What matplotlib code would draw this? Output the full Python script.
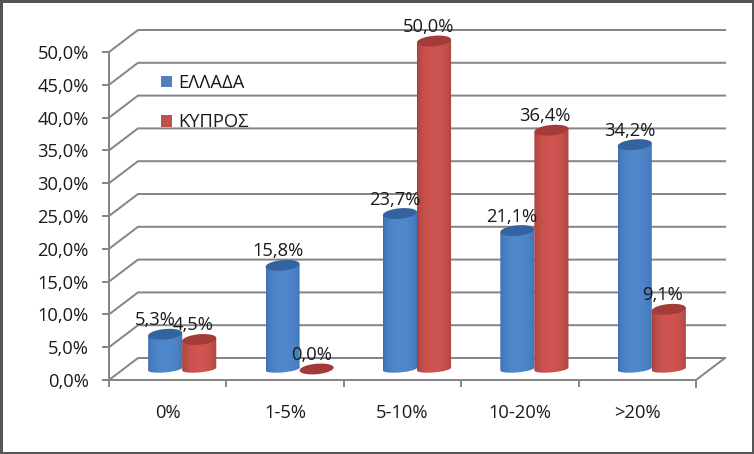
import numpy as np
import matplotlib
matplotlib.use("Agg")
import matplotlib.pyplot as plt
from matplotlib.patches import Polygon, Rectangle, Patch

categories = ["0%", "1-5%", "5-10%", "10-20%", ">20%"]
greece = [5.3, 15.8, 23.7, 21.1, 34.2]
cyprus = [4.5, 0.0, 50.0, 36.4, 9.1]
greece_labels = ["5,3%", "15,8%", "23,7%", "21,1%", "34,2%"]
cyprus_labels = ["4,5%", "0,0%", "50,0%", "36,4%", "9,1%"]
y_ticks = [0, 5, 10, 15, 20, 25, 30, 35, 40, 45, 50]
series_names = ["ΕΛΛΑΔΑ", "ΚΥΠΡΟΣ"]

plt.rcParams["font.family"] = ["Open Sans", "DejaVu Sans"]
W, H = 754, 454
fig = plt.figure(figsize=(W / 100, H / 100), dpi=100, facecolor="white")
ax = fig.add_axes([109 / W, 1 - 380 / H, 587 / W, 328 / H])
ax.set_xlim(0, 5)
ax.set_ylim(0, 50)
ax.patch.set_alpha(0)
px = 72 / 100
GRID = "#868686"
TXT = "#1a1a1a"
FS = 13.2

# 3-D depth of the chart box, in data units
DX, DY = 29 / 117.4, 22 / 6.56
for s in ["top", "right"]:
    ax.spines[s].set_visible(False)
for s in ["left", "bottom"]:
    ax.spines[s].set_color(GRID)
    ax.spines[s].set_linewidth(2 * px)
ax.set_yticks(y_ticks)
ax.set_yticklabels([f"{v:.1f}%".replace(".", ",") for v in y_ticks], fontsize=FS, color=TXT)
ax.set_xticks(range(6))
ax.set_xticklabels([""] * 6)
ax.set_xticks(np.arange(5) + 0.5, minor=True)
ax.set_xticklabels(categories, minor=True, fontsize=FS, color=TXT)
ax.tick_params(axis="y", length=7 * px, width=2 * px, color=GRID, pad=13 * px)
ax.tick_params(axis="x", which="major", length=7 * px, width=2 * px, color=GRID)
ax.tick_params(axis="x", which="minor", length=0, pad=24 * px)

# wall and floor lines
for v in y_ticks:
    ax.plot([0, DX, 5 + DX], [v, v + DY, v + DY], color=GRID, lw=2 * px, clip_on=False, zorder=1, solid_joinstyle="miter")
ax.plot([5, 5 + DX], [0, DY], color=GRID, lw=2 * px, clip_on=False, zorder=1)
ax.plot([5, 5], [0, -7 / 6.56], color=GRID, lw=2 * px, clip_on=False, zorder=1)


def hex_rgb(c):
    return np.array(matplotlib.colors.to_rgb(c))


def cylinder(xc, value, dark, light, top, z):
    hw, hh, shear = 0.145, 0.8, 0.22
    base = DY / 2
    t = np.linspace(0, np.pi, 40)
    ex, ey = np.cos(t), np.sin(t)
    if value > 0:
        lo = np.c_[xc - hw * ex, base - 0.65 * hh * ey - shear * ex]
        up = np.c_[xc + hw * ex, base + value + shear * ex]
        body = Polygon(np.r_[lo, up], closed=True, transform=ax.transData, fc="none", ec="none")
        ax.add_patch(body)
        u = np.linspace(0, 1, 80)
        w = np.clip(np.sin(np.pi * u) ** 0.4, 0, 1)[None, :, None]
        grad = hex_rgb(dark)[None, None, :] * (1 - w) + hex_rgb(light)[None, None, :] * w
        im = ax.imshow(grad, extent=[xc - hw, xc + hw, base - 2, base + value + 2],
                       aspect="auto", zorder=z, interpolation="bilinear")
        im.set_clip_path(body)
        im.set_clip_box(fig.bbox)
    a = np.linspace(0, 2 * np.pi, 80)
    lid = np.c_[xc + hw * np.cos(a), base + value + hh * np.sin(a) + shear * np.cos(a)]
    ax.add_patch(Polygon(lid, closed=True, fc=top, ec="none", zorder=z + 0.1, clip_on=False))


OFFSET = 0.145
GC = DX / 2
label_shift_g = [-10, -5, -5, -6, -5]
label_shift_c = [-6, -5, -5, -7, -6]
for i in range(5):
    xb = i + 0.5 + GC - OFFSET
    xr = i + 0.5 + GC + OFFSET
    cylinder(xb, greece[i], "#386aa8", "#5088cc", "#34649f", 3 + i)
    cylinder(xr, cyprus[i], "#9c3a37", "#cf5551", "#a33b38", 3.5 + i)
    for xx, v, lab, sh in ((xb, greece[i], greece_labels[i], label_shift_g[i]),
                           (xr, cyprus[i], cyprus_labels[i], label_shift_c[i])):
        ax.annotate(lab, (xx, v + DY / 2), xytext=(sh * px, 14 * px), textcoords="offset points",
                    ha="center", va="center", fontsize=FS, color=TXT, zorder=20, annotation_clip=False)

ax.set_xlim(0, 5)
ax.set_ylim(0, 50)

leg = ax.legend(handles=[Patch(fc="#4f81bd", label=series_names[0]), Patch(fc="#c0504d", label=series_names[1])],
                loc="upper left", bbox_to_anchor=(161 / W, 1 - 74 / H), bbox_transform=fig.transFigure,
                frameon=False, fontsize=FS, labelcolor=TXT, handlelength=0.62, handleheight=0.62,
                handletextpad=0.32, labelspacing=1.15, borderpad=0, borderaxespad=0)

fig.add_artist(Rectangle((0, 0), 1, 1, transform=fig.transFigure, fc="none", ec="#555555", lw=5 * px))
fig.savefig("out.png", dpi=100)
